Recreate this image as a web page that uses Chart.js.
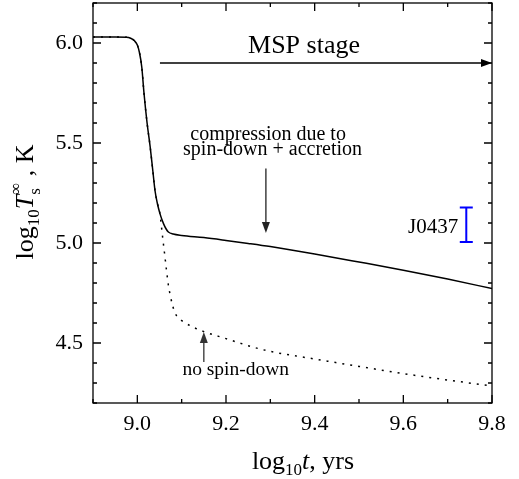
<!DOCTYPE html>
<html>
<head>
<meta charset="utf-8">
<script src="https://cdn.jsdelivr.net/npm/chart.js@4"></script>
<style>
  html, body { margin: 0; padding: 0; background: #fff; }
  #wrap { width: 519px; height: 479px; }
</style>
</head>
<body>
<div id="wrap"><canvas id="chart"></canvas></div>
<script>
// log10 t (yrs) and log10 Ts (K) for the spin-down + accretion track
const tSolid = [8.9, 8.95, 8.975, 8.985, 8.993, 9.0, 9.005, 9.01, 9.015, 9.022, 9.029, 9.035, 9.04, 9.045, 9.051,
  9.059, 9.065, 9.07, 9.081, 9.1, 9.15, 9.2, 9.25, 9.3, 9.4, 9.5, 9.6, 9.7, 9.8]
const logTsSolid = [6.03, 6.03, 6.029, 6.024, 6.012, 5.99, 5.95, 5.88, 5.75, 5.6, 5.48, 5.36, 5.26, 5.2, 5.147,
  5.097, 5.07, 5.055, 5.045, 5.038, 5.027, 5.013, 4.998, 4.982, 4.945, 4.905, 4.864, 4.82, 4.772]

// no spin-down track
const tDotted = [8.9, 8.95, 8.975, 8.985, 8.993, 9.0, 9.005, 9.01, 9.015, 9.022, 9.029, 9.035, 9.04, 9.045, 9.051,
  9.054, 9.057, 9.061, 9.066, 9.07, 9.075, 9.08, 9.085, 9.092, 9.1, 9.125, 9.15, 9.2, 9.26, 9.3, 9.4, 9.5, 9.6, 9.7, 9.8]
const logTsDotted = [6.03, 6.03, 6.029, 6.024, 6.012, 5.99, 5.95, 5.88, 5.75, 5.6, 5.48, 5.36, 5.26, 5.2, 5.147,
  5.09, 5.03, 4.955, 4.86, 4.79, 4.73, 4.684, 4.65, 4.627, 4.612, 4.58, 4.557, 4.522, 4.48, 4.458, 4.42, 4.383, 4.347, 4.315, 4.285]

// J0437 observation
const j0437T = 9.742
const j0437Low = 5.005
const j0437High = 5.177

const xTicks = [9.0, 9.2, 9.4, 9.6, 9.8]
const yTicks = [4.5, 5.0, 5.5, 6.0]

const toPoints = (xs, ys) => xs.map((v, i) => ({ x: v, y: ys[i] }))

const serif = '"Liberation Serif", "Times New Roman", serif'

function drawParts(ctx, parts, cx, baseY) {
  let total = 0
  parts.forEach(p => {
    ctx.font = p.font
    p.w = ctx.measureText(p.text).width
    if (!p.noAdvance) total += p.w
  })
  let x = cx - total / 2
  ctx.textAlign = 'left'
  ctx.textBaseline = 'alphabetic'
  parts.forEach(p => {
    ctx.font = p.font
    ctx.fillText(p.text, x, baseY + (p.dy || 0))
    if (!p.noAdvance) x += p.w
  })
}

function arrow(ctx, x1, y1, x2, y2, color) {
  const ang = Math.atan2(y2 - y1, x2 - x1)
  const len = 11, hw = 4
  ctx.strokeStyle = color
  ctx.fillStyle = color
  ctx.lineWidth = 1.3
  ctx.beginPath()
  ctx.moveTo(x1, y1)
  ctx.lineTo(x2 - len * Math.cos(ang), y2 - len * Math.sin(ang))
  ctx.stroke()
  ctx.beginPath()
  ctx.moveTo(x2, y2)
  ctx.lineTo(x2 - len * Math.cos(ang) + hw * Math.sin(ang), y2 - len * Math.sin(ang) - hw * Math.cos(ang))
  ctx.lineTo(x2 - len * Math.cos(ang) - hw * Math.sin(ang), y2 - len * Math.sin(ang) + hw * Math.cos(ang))
  ctx.closePath()
  ctx.fill()
}

const decor = {
  id: 'decor',
  afterDatasetsDraw(chart) {
    const { ctx, scales: { x, y } } = chart
    ctx.save()

    // J0437 error bar
    const bx = x.getPixelForValue(j0437T)
    const by1 = y.getPixelForValue(j0437High)
    const by2 = y.getPixelForValue(j0437Low)
    ctx.strokeStyle = '#0000ff'
    ctx.lineWidth = 2
    ctx.beginPath()
    ctx.moveTo(bx, by1); ctx.lineTo(bx, by2)
    ctx.moveTo(bx - 6.5, by1); ctx.lineTo(bx + 6.5, by1)
    ctx.moveTo(bx - 6.5, by2); ctx.lineTo(bx + 6.5, by2)
    ctx.stroke()

    ctx.fillStyle = '#000'
    ctx.font = '21px ' + serif
    ctx.textAlign = 'right'
    ctx.textBaseline = 'alphabetic'
    ctx.fillText('J0437', bx - 8, y.getPixelForValue(5.05))

    // MSP stage
    arrow(ctx, x.getPixelForValue(9.051), y.getPixelForValue(5.9), x.getPixelForValue(9.8), y.getPixelForValue(5.9), '#000')
    ctx.fillStyle = '#000'
    ctx.font = '26px ' + serif
    ctx.textAlign = 'center'
    ctx.fillText('MSP stage', x.getPixelForValue(9.376), y.getPixelForValue(5.948))

    // compression note
    ctx.font = '20px ' + serif
    ctx.fillText('compression due to', x.getPixelForValue(9.295), y.getPixelForValue(5.513))
    ctx.fillText('spin-down + accretion', x.getPixelForValue(9.305), y.getPixelForValue(5.438))
    arrow(ctx, x.getPixelForValue(9.29), y.getPixelForValue(5.372), x.getPixelForValue(9.29), y.getPixelForValue(5.05), '#222')

    // no spin-down note
    arrow(ctx, x.getPixelForValue(9.15), y.getPixelForValue(4.405), x.getPixelForValue(9.15), y.getPixelForValue(4.555), '#333')
    ctx.fillStyle = '#000'
    ctx.font = '19.5px ' + serif
    ctx.textAlign = 'center'
    ctx.fillText('no spin-down', x.getPixelForValue(9.222), y.getPixelForValue(4.34))

    ctx.restore()
  },
  afterDraw(chart) {
    const { ctx, chartArea: a, scales: { x, y } } = chart
    ctx.save()
    ctx.strokeStyle = '#000'
    ctx.lineWidth = 1.3
    ctx.strokeRect(a.left, a.top, a.right - a.left, a.bottom - a.top)

    ctx.beginPath()
    for (let i = 0; i <= 9; i++) {
      const v = 8.9 + i * 0.1
      const px = x.getPixelForValue(v)
      const major = xTicks.some(t => Math.abs(t - v) < 1e-6)
      const l = major ? 8 : 4
      ctx.moveTo(px, a.bottom); ctx.lineTo(px, a.bottom - l)
      ctx.moveTo(px, a.top); ctx.lineTo(px, a.top + l)
    }
    for (let i = 0; i <= 20; i++) {
      const v = 4.2 + i * 0.1
      const py = y.getPixelForValue(v)
      const major = yTicks.some(t => Math.abs(t - v) < 1e-6)
      const l = major ? 8 : 4
      ctx.moveTo(a.left, py); ctx.lineTo(a.left + l, py)
      ctx.moveTo(a.right, py); ctx.lineTo(a.right - l, py)
    }
    ctx.stroke()

    // axis titles
    ctx.fillStyle = '#000'
    drawParts(ctx, [
      { text: 'log', font: '26px ' + serif },
      { text: '10', font: '17px ' + serif, dy: 6 },
      { text: 't', font: 'italic 26px ' + serif },
      { text: ', yrs', font: '26px ' + serif }
    ], 303, 469)

    ctx.translate(33, 202)
    ctx.rotate(-Math.PI / 2)
    drawParts(ctx, [
      { text: 'log', font: '26px ' + serif },
      { text: '10', font: '17px ' + serif, dy: 6 },
      { text: 'T', font: 'italic 26px ' + serif },
      { text: 's', font: '17px ' + serif, dy: 7, noAdvance: true },
      { text: '\u221E', font: '17px ' + serif, dy: -12 },
      { text: ' , K', font: '26px ' + serif }
    ], 0, 0)
    ctx.restore()
  }
}

new Chart(document.getElementById('chart'), {
  type: 'line',
  data: {
    datasets: [{
      label: 'spin-down + accretion',
      data: toPoints(tSolid, logTsSolid),
      borderColor: '#000',
      borderWidth: 1.5,
      pointRadius: 0,
      cubicInterpolationMode: 'monotone',
      fill: false
    }, {
      label: 'no spin-down',
      data: toPoints(tDotted, logTsDotted),
      borderColor: '#000',
      borderWidth: 1.5,
      borderDash: [2, 6],
      pointRadius: 0,
      cubicInterpolationMode: 'monotone',
      fill: false
    }]
  },
  options: {
    responsive: true,
    maintainAspectRatio: false,
    animation: false,
    layout: { padding: { top: 3, right: 27, left: 0, bottom: 0 } },
    plugins: {
      legend: { display: false },
      tooltip: { enabled: false }
    },
    scales: {
      x: {
        type: 'linear',
        min: 8.9,
        max: 9.8,
        grid: { display: false, drawTicks: false },
        border: { display: false },
        afterBuildTicks: s => { s.ticks = xTicks.map(v => ({ value: v })) },
        afterFit: s => { s.height = 76; s.paddingLeft = 0; s.paddingRight = 0 },
        ticks: {
          padding: 8,
          color: '#000',
          font: { family: serif, size: 22 },
          maxRotation: 0,
          callback: v => v.toFixed(1)
        }
      },
      y: {
        type: 'linear',
        min: 4.2,
        max: 6.2,
        grid: { display: false, drawTicks: false },
        border: { display: false },
        afterBuildTicks: s => { s.ticks = yTicks.map(v => ({ value: v })) },
        afterFit: s => { s.width = 93; s.paddingTop = 0; s.paddingBottom = 0 },
        ticks: {
          padding: 10,
          color: '#000',
          font: { family: serif, size: 22 },
          callback: v => v.toFixed(1)
        }
      }
    }
  },
  plugins: [decor]
})
</script>
</body>
</html>
